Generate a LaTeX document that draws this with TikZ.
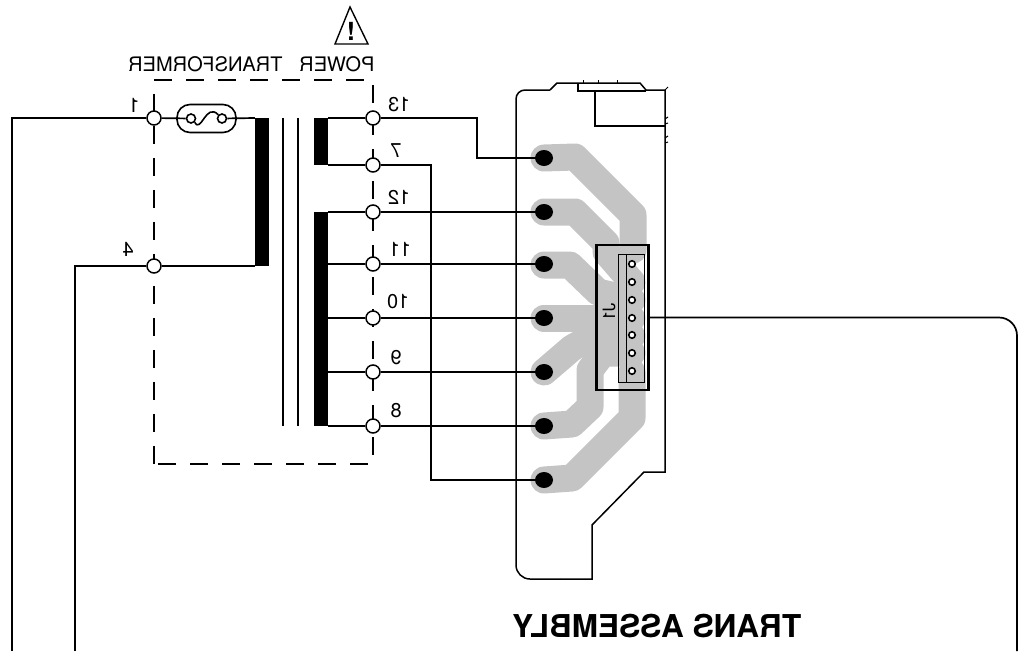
\documentclass[tikz,border=0pt]{standalone}
\usepackage{fontspec}
\setmainfont{TeX Gyre Heros}
\usepackage{tikz}
\usetikzlibrary{arrows,shapes,positioning}
\definecolor{tracegray}{RGB}{196,196,196}
\newcommand{\flip}[1]{\scalebox{-1}[1]{#1}}
\tikzstyle{wire} = [line width=1.7pt, color=black]
\tikzstyle{terminal} = [circle, minimum size=14pt, inner sep=0pt, draw=black, fill=white, line width=1.5pt]
\tikzstyle{winding} = [rectangle, minimum width=14pt, inner sep=0pt, outer sep=0pt, fill=black]
\tikzstyle{core} = [line width=1.3pt, color=black]
\tikzstyle{tag} = [inner sep=0pt, font=\fontsize{20}{20}\selectfont]
\tikzstyle{trace} = [line width=27pt, color=tracegray, line join=round, line cap=round]
\tikzstyle{pad} = [ellipse, minimum width=18pt, minimum height=16pt, inner sep=0pt, fill=black]
\tikzstyle{pin} = [circle, minimum size=6.5pt, inner sep=0pt, draw=black, fill=white, line width=1.6pt]
\tikzstyle{outline} = [line width=1.5pt, color=black]
\tikzstyle{fusepart} = [draw, line width=1.6pt, inner sep=0pt]

\begin{document}
\begin{tikzpicture}[x=1pt, y=-1pt]
\useasboundingbox (0,0) rectangle (1034,651);

% Copper traces
\draw[trace] (544,158) -- (575,157) -- (633,215) -- (633,250);
\draw[trace] (544,212) -- (575,212) -- (606,243) -- (606,252) -- (632,282);
\draw[trace] (544,265) -- (570,265) -- (598,292) -- (632,300);
\draw[trace] (544,318) -- (632,318);
\draw[trace] (544,372) -- (572,348) -- (597,334) -- (632,336);
\draw[trace] (544,426) -- (572,424) -- (590,407) -- (590,370) -- (603,353) -- (632,353);
\draw[trace] (544,480) -- (572,478) -- (632,418) -- (632,372);

% Board outline
\draw[outline, rounded corners=9pt] (516,300) -- (516,90) -- (550,90);
\draw[outline] (550,90) -- (557,83) -- (640,83) -- (646,90) -- (665,90) -- (665,472) -- (644,472) -- (592,525) -- (592,579) -- (560,579);
\draw[outline, rounded corners=14pt] (560,579) -- (516,579) -- (516,300);
\draw[outline] (578,83) -- (578,91) -- (646,91);
\draw[outline] (595,91) -- (595,126) -- (665,126);
\draw[line width=1pt] (583,83) -- (583,80);
\draw[line width=1pt] (598,83) -- (598,80);
\draw[line width=1pt] (617,83) -- (617,80);
\draw[line width=1pt] (665,90) -- (668,87);
\draw[line width=1pt] (665,119) -- (668,117);
\draw[line width=1pt] (665,124) -- (668,123);
\draw[line width=1pt] (665,138) -- (668,136);
\draw[line width=1pt] (665,143) -- (668,142);

% Transformer box
\draw[line width=1.5pt, dash pattern=on 18pt off 14pt] (154,464) -- (154,80) -- (373,80) -- (373,464) -- cycle;

% Windings and core
\node[winding, minimum height=148pt] (wleft) at (262,192) {};
\node[winding, minimum height=47pt] (wtop) at (321,141.5) {};
\node[winding, minimum height=214pt] (wlow) at (321,319) {};
\draw[core] (283,118) -- (283,426);
\draw[core] (298,118) -- (298,426);

% Terminals
\node[terminal] (t1) at (154,118) {};
\node[terminal] (t4) at (154,266) {};
\node[terminal] (t13) at (373,118) {};
\node[terminal] (t7) at (373,165) {};
\node[terminal] (t12) at (373,212) {};
\node[terminal] (t11) at (373,264) {};
\node[terminal] (t10) at (373,318) {};
\node[terminal] (t9) at (373,372) {};
\node[terminal] (t8) at (373,426) {};

% Fuse
\node[fusepart, rectangle, rounded corners=13pt, minimum width=59pt, minimum height=28pt] (fuse) at (206.5,118.5) {};
\node[fusepart, circle, minimum size=9pt] (fa) at (191,118.5) {};
\node[fusepart, circle, minimum size=9pt] (fb) at (222,118.5) {};
\draw[line width=1.6pt] (fa.south east) .. controls (201,134) and (206,102) .. (fb.north west);

% Pads
\node[pad] (pad1) at (544,158) {};
\node[pad] (pad2) at (544,212) {};
\node[pad] (pad3) at (544,264) {};
\node[pad] (pad4) at (544,318) {};
\node[pad] (pad5) at (544,372) {};
\node[pad] (pad6) at (544,426) {};
\node[pad] (pad7) at (544,480) {};

% Connector
\node[rectangle, draw=black, line width=2.4pt, minimum width=52pt, minimum height=145pt] (conn) at (622.5,317.5) {};
\node[rectangle, draw=black, line width=1pt, minimum width=26pt, minimum height=128pt] (header) at (631,318) {};
\draw[line width=1pt] (626,254) -- (626,382);
\node[pin] (pin1) at (632,264) {};
\node[pin] (pin2) at (632,282) {};
\node[pin] (pin3) at (632,300) {};
\node[pin] (pin4) at (632,318) {};
\node[pin] (pin5) at (632,335) {};
\node[pin] (pin6) at (632,353) {};
\node[pin] (pin7) at (632,371) {};
\node[tag, font=\fontsize{17}{17}\selectfont] (jname) at (609,312) {\flip{\rotatebox{-90}{J1}}};

% Free ends
\coordinate (lbot) at (12,651);
\coordinate (fbot) at (75,651);
\coordinate (rbot) at (1017,651);
\coordinate (k13) at (477,158);
\coordinate (k7) at (431,480);

% Connections
\draw[wire] (lbot) |- (t1);
\draw[wire] (t1) -- (fa);
\draw[wire] (fb) -- (wleft.north west);
\draw[wire] (fbot) |- (t4);
\draw[wire] (t4) -- (wleft.south west);
\draw[wire] (wtop.north east) -- (t13);
\draw[wire] (wtop.south east) -- (t7);
\draw[wire] (wlow.north east) -- (t12);
\draw[wire] (t11 -| wlow.east) -- (t11);
\draw[wire] (t10 -| wlow.east) -- (t10);
\draw[wire] (t9 -| wlow.east) -- (t9);
\draw[wire] (wlow.south east) -- (t8);
\draw[wire] (t13) -| (k13) -- (pad1);
\draw[wire] (t7) -| (k7) -- (pad7);
\draw[wire] (t12) -- (pad2);
\draw[wire] (t11) -- (pad3);
\draw[wire] (t10) -- (pad4);
\draw[wire] (t9) -- (pad5);
\draw[wire] (t8) -- (pad6);
\draw[wire, rounded corners=18pt] (conn.east) -| (rbot);

% Labels
\node[tag] (title) at (251.5,64) {\flip{POWER\hspace{17pt}TRANSFORMER}};
\node[tag] (n1) at (134,105) {\flip{1}};
\node[tag] (n4) at (128,249) {\flip{4}};
\node[tag] (n13) at (399,105) {\flip{13}};
\node[tag] (n7) at (396,151) {\flip{7}};
\node[tag] (n12) at (399,197) {\flip{12}};
\node[tag] (n11) at (400,249) {\flip{11}};
\node[tag] (n10) at (398,302) {\flip{10}};
\node[tag] (n9) at (396,358) {\flip{9}};
\node[tag] (n8) at (396,411) {\flip{8}};
\node[inner sep=0pt, font=\fontsize{31.5}{32}\selectfont\bfseries] (asm) at (657,626) {\flip{TRANS ASSEMBLY}};

% Warning sign
\draw[line width=1.4pt, line join=miter] (350,7) -- (368,44) -- (335,44) -- cycle;
\node[inner sep=0pt, font=\fontsize{25}{25}\selectfont\bfseries] (warn) at (351,31) {!};
\end{tikzpicture}
\end{document}
